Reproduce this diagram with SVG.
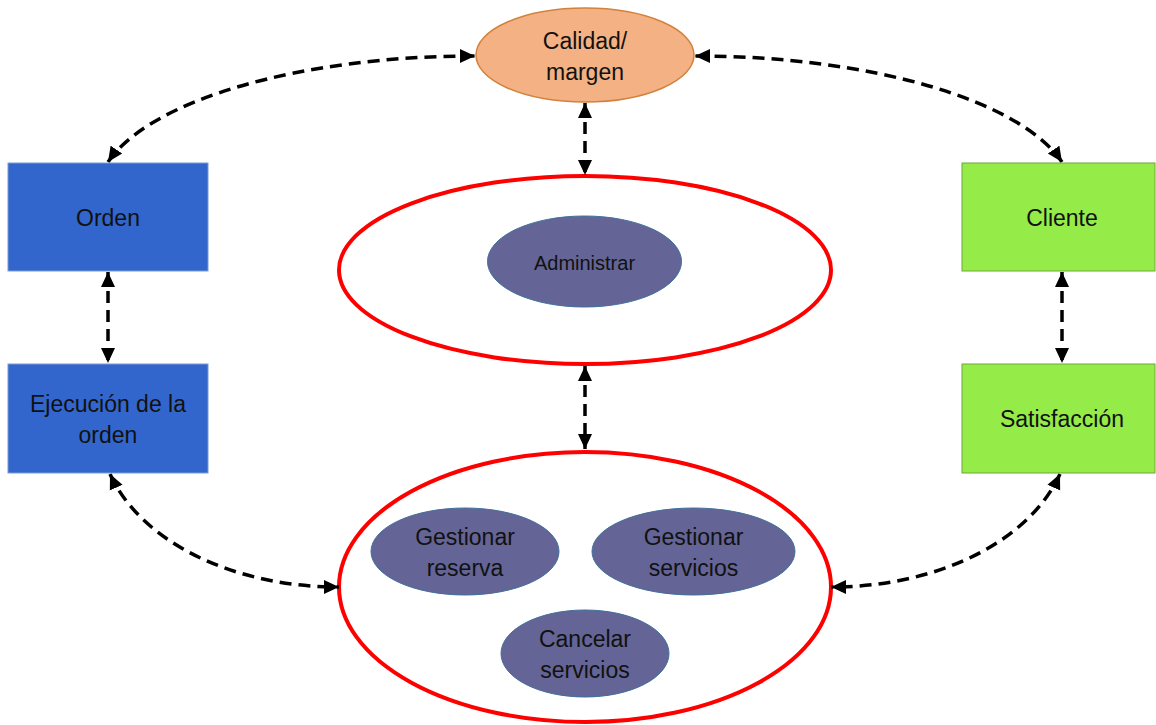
<svg xmlns="http://www.w3.org/2000/svg" width="1156" height="725" viewBox="0 0 1156 725">
  <style>
    .lbl { font-family: "Liberation Sans", Arial, sans-serif; font-size: 23px; fill: #111; text-anchor: middle; dominant-baseline: central; }
    .small { font-size: 20px; }
    .blue { fill: #3366CC; stroke: #7A9CD6; stroke-width: 1; }
    .green { fill: #95EB47; stroke: #6FA83A; stroke-width: 1; }
    .task { fill: #646496; stroke: #41719C; stroke-width: 1; }
    .group { fill: #FFFFFF; stroke: #FF0000; stroke-width: 4; }
    .link { fill: none; stroke: #000; stroke-width: 3.5; stroke-dasharray: 12 7; marker-start: url(#head); marker-end: url(#head); }
  </style>
  <defs>
    <marker id="head" markerUnits="userSpaceOnUse" markerWidth="16" markerHeight="16" refX="15" refY="8" orient="auto-start-reverse">
      <path d="M0,1 L15,8 L0,15 z" fill="#000"/>
    </marker>
  </defs>

  <rect width="1156" height="725" fill="#FFFFFF"/>

  <!-- outer groups -->
  <g id="grupo-administrar">
    <ellipse class="group" cx="585" cy="270" rx="246" ry="94"/>
  </g>
  <g id="grupo-gestion">
    <ellipse class="group" cx="585" cy="587" rx="246" ry="135"/>
  </g>

  <!-- connectors -->
  <g id="connectors">
    <path class="link" d="M108,162 C150,100 300,56 475,56"/>
    <path class="link" d="M1062,162 C1020,100 870,56 695,56"/>
    <path class="link" d="M585,103 L585,175"/>
    <path class="link" d="M585,366 L585,449"/>
    <path class="link" d="M108,272 L108,363"/>
    <path class="link" d="M1062,272 L1062,363"/>
    <path class="link" d="M110,474 C140,540 230,587 339,587"/>
    <path class="link" d="M1060,474 C1030,540 940,587 831,587"/>
  </g>

  <g id="calidad">
    <ellipse cx="585" cy="55" rx="109" ry="47" fill="#F4B183" stroke="#D2823C" stroke-width="1.5"/>
    <text class="lbl" x="585" y="41">Calidad/</text>
    <text class="lbl" x="585" y="72">margen</text>
  </g>

  <g id="orden">
    <rect class="blue" x="8" y="163" width="200" height="108"/>
    <text class="lbl" x="108" y="218">Orden</text>
  </g>

  <g id="ejecucion">
    <rect class="blue" x="8" y="364" width="200" height="109"/>
    <text class="lbl" x="108" y="404">Ejecución de la</text>
    <text class="lbl" x="108" y="435">orden</text>
  </g>

  <g id="cliente">
    <rect class="green" x="962" y="163" width="193" height="108"/>
    <text class="lbl" x="1062" y="218">Cliente</text>
  </g>

  <g id="satisfaccion">
    <rect class="green" x="962" y="364" width="193" height="109"/>
    <text class="lbl" x="1062" y="419">Satisfacción</text>
  </g>

  <g id="administrar">
    <ellipse class="task" cx="584.5" cy="261.5" rx="97" ry="45.5"/>
    <text class="lbl small" x="584.5" y="263">Administrar</text>
  </g>

  <g id="gestionar-reserva">
    <ellipse class="task" cx="465" cy="551.5" rx="94" ry="43.5"/>
    <text class="lbl" x="465" y="537">Gestionar</text>
    <text class="lbl" x="465" y="568">reserva</text>
  </g>

  <g id="gestionar-servicios">
    <ellipse class="task" cx="693.5" cy="551.5" rx="101.5" ry="43.5"/>
    <text class="lbl" x="693.5" y="537">Gestionar</text>
    <text class="lbl" x="693.5" y="568">servicios</text>
  </g>

  <g id="cancelar-servicios">
    <ellipse class="task" cx="585" cy="653.5" rx="84" ry="43.5"/>
    <text class="lbl" x="585" y="639">Cancelar</text>
    <text class="lbl" x="585" y="670">servicios</text>
  </g>
</svg>
